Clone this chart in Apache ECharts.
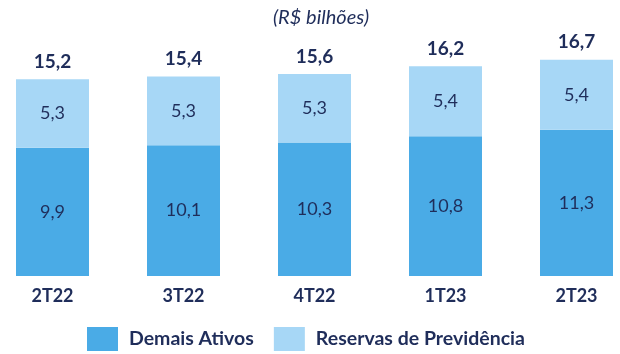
<!DOCTYPE html>
<html>
<head>
<meta charset="utf-8">
<script src="https://cdn.jsdelivr.net/npm/echarts@6/dist/echarts.min.js"></script>
<style>
  html, body { margin: 0; padding: 0; background: #ffffff; }
  #chart { width: 620px; height: 354px; }
</style>
</head>
<body>
<div id="chart"></div>
<script>
// Quarterly breakdown (R$ billions)
const categories = ['2T22', '3T22', '4T22', '1T23', '2T23'];
const demaisAtivos = [9.9, 10.1, 10.3, 10.8, 11.3];
const reservasPrevidencia = [5.3, 5.3, 5.3, 5.4, 5.4];
const totals = [15.2, 15.4, 15.6, 16.2, 16.7];

const navy = '#1f2d5a';
const font = 'Lato, "Open Sans", sans-serif';
const fmt = v => v.toFixed(1).replace('.', ',');

const chart = echarts.init(document.getElementById('chart'), null, { renderer: 'canvas' });

chart.setOption({
  animation: false,
  backgroundColor: '#ffffff',
  textStyle: { fontFamily: font },
  title: {
    text: '(R$ bilhões)',
    left: 316,
    textAlign: 'center',
    top: 3,
    textStyle: { fontFamily: font, fontSize: 20, fontStyle: 'italic', fontWeight: 'normal', color: navy }
  },
  legend: {
    data: ['Demais Ativos', 'Reservas de Previdência'],
    left: 87,
    top: 327,
    padding: 0,
    itemWidth: 31,
    itemHeight: 24,
    itemGap: 20,
    icon: 'rect',
    textStyle: { fontFamily: font, fontSize: 19.5, fontWeight: 'bold', color: navy, padding: [0, 0, 0, 6] }
  },
  // category centres sit on the grid edges, 131 px apart
  grid: { left: 52.5, width: 524, top: 17, bottom: 78, containLabel: false },
  xAxis: {
    type: 'category',
    data: categories,
    boundaryGap: false,
    axisLine: { show: false },
    axisTick: { show: false },
    axisLabel: { margin: 11, fontFamily: font, fontSize: 18, fontWeight: 'bold', color: navy }
  },
  yAxis: {
    type: 'value',
    min: 0,
    max: 20,
    show: false,
    splitLine: { show: false }
  },
  series: [
    {
      name: 'Demais Ativos',
      type: 'bar',
      stack: 'total',
      barWidth: 73,
      data: demaisAtivos,
      itemStyle: { color: '#4aabe6' },
      label: {
        show: true, position: 'inside',
        formatter: p => fmt(p.value),
        fontFamily: font, fontSize: 18, color: navy
      }
    },
    {
      name: 'Reservas de Previdência',
      type: 'bar',
      stack: 'total',
      barWidth: 73,
      data: reservasPrevidencia,
      itemStyle: { color: '#a7d7f6' },
      label: {
        show: true, position: 'inside',
        formatter: p => fmt(p.value),
        fontFamily: font, fontSize: 18, color: navy
      }
    },
    {
      name: 'Total',
      type: 'bar',
      barWidth: 73,
      barGap: '-100%',
      z: 0,
      data: totals,
      itemStyle: { color: 'rgba(0,0,0,0)' },
      label: {
        show: true, position: 'top', distance: 8,
        formatter: p => fmt(p.value),
        fontFamily: font, fontSize: 19, fontWeight: 'bold', color: navy
      },
      emphasis: { disabled: true }
    }
  ]
});
</script>
</body>
</html>
